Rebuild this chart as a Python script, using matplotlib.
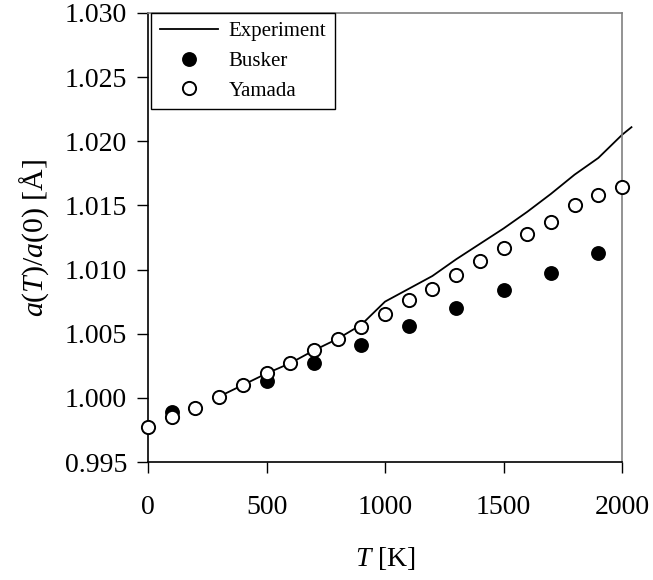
import matplotlib
matplotlib.use("Agg")
import matplotlib.pyplot as plt

plt.rcParams['font.family'] = ['Liberation Serif', 'DejaVu Serif']
plt.rcParams['mathtext.fontset'] = 'custom'
plt.rcParams['mathtext.rm'] = 'Liberation Serif'
plt.rcParams['mathtext.it'] = 'Liberation Serif:italic'

# Experiment (solid line)
exp_T = [300, 400, 500, 600, 700, 800, 900, 950, 1000, 1100, 1200, 1300, 1400,
         1500, 1600, 1700, 1800, 1900, 2000, 2040]
exp_a = [1.0001, 1.0010, 1.0019, 1.0027, 1.0037, 1.0046, 1.0057, 1.0066, 1.0075,
         1.0085, 1.0095, 1.0108, 1.0120, 1.0132, 1.0145, 1.0159, 1.0174, 1.0187,
         1.0205, 1.0211]

# Busker (filled circles)
busker_T = [100, 500, 700, 900, 1100, 1300, 1500, 1700, 1900]
busker_a = [0.9989, 1.0013, 1.0027, 1.0041, 1.0056, 1.0070, 1.0084, 1.0097, 1.0113]

# Yamada (open circles)
yamada_T = [0, 100, 200, 300, 400, 500, 600, 700, 800, 900, 1000, 1100, 1200,
            1300, 1400, 1500, 1600, 1700, 1800, 1900, 2000]
yamada_a = [0.9977, 0.9985, 0.9992, 1.0001, 1.0010, 1.0019, 1.0027, 1.0037,
            1.0046, 1.0055, 1.0065, 1.0076, 1.0085, 1.0096, 1.0107, 1.0117,
            1.0128, 1.0137, 1.0150, 1.0158, 1.0164]

x_ticks = [0, 500, 1000, 1500, 2000]
y_ticks = [0.995, 1.000, 1.005, 1.010, 1.015, 1.020, 1.025, 1.030]

W, H = 653, 580
fig = plt.figure(figsize=(W / 100, H / 100), dpi=100)
ax = fig.add_axes([148 / W, 1 - 462 / H, (622 - 148) / W, (462 - 13) / H])

ax.plot(exp_T, exp_a, color='black', lw=1.3, label='Experiment', clip_on=False, zorder=2)
ax.plot(busker_T, busker_a, ls='none', marker='o', ms=9.5, mfc='black', mec='black',
        mew=1.2, label='Busker', clip_on=False, zorder=3)
ax.plot(yamada_T, yamada_a, ls='none', marker='o', ms=9.5, mfc='white', mec='black',
        mew=1.4, label='Yamada', clip_on=False, zorder=4)

ax.set_xlim(0, 2000)
ax.set_ylim(0.995, 1.030)
ax.set_xticks(x_ticks)
ax.set_yticks(y_ticks)
ax.set_yticklabels([f'{v:.3f}' for v in y_ticks])
ax.tick_params(direction='out', length=8, width=1.0, labelsize=20, colors='black')
ax.tick_params(axis='y', pad=7)
ax.tick_params(axis='x', pad=15.5)

for s in ['left', 'bottom']:
    ax.spines[s].set_color('black')
    ax.spines[s].set_linewidth(1.2)
for s in ['right', 'top']:
    ax.spines[s].set_color('#808080')
    ax.spines[s].set_linewidth(1.2)

ax.set_xlabel(r'$T$ [K]', fontsize=20, labelpad=18)
ax.set_ylabel(r'$a$($T$)/$a$(0) [Å]', fontsize=21.5, labelpad=10)

leg = ax.legend(loc='upper left', bbox_to_anchor=(3 / 474, 1.0), fontsize=15,
                frameon=True, fancybox=False, edgecolor='black', framealpha=1,
                borderaxespad=0.0, handlelength=2.8, handletextpad=0.5,
                labelspacing=0.48, borderpad=0.42)
leg.get_frame().set_linewidth(1.0)

fig.savefig('out.png', dpi=100)
